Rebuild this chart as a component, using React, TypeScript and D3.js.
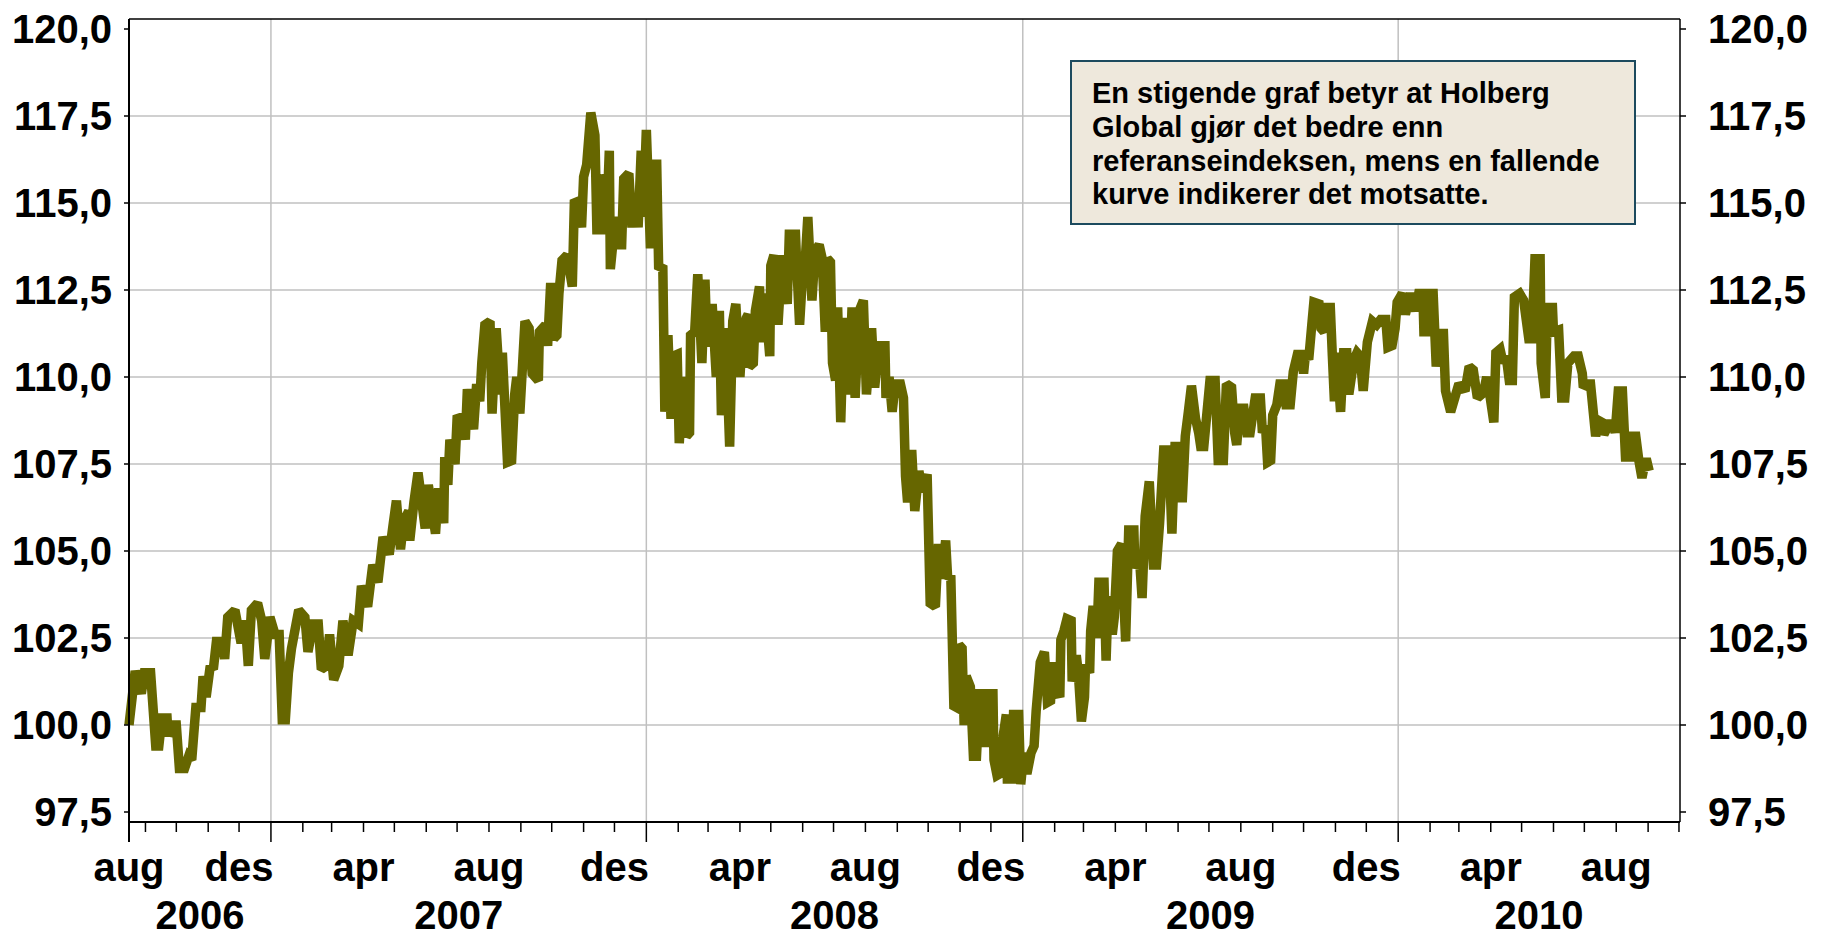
import React from 'react';
import * as d3 from 'd3';

// ---------- data ----------
const START_DATE = '2006-08-16';
const AXIS_END_DATE = '2010-10-02';

// days since START_DATE
const dayOffsets = [
  0, 6, 12, 15, 21, 26, 29, 32, 37, 38, 43, 46, 49, 54, 58, 61, 65, 70, 72, 75, 79, 82, 85, 91, 93, 96, 103, 109, 113, 116, 119, 125, 129, 132, 137, 142, 146, 149, 152, 155, 158, 165, 171, 174, 179, 184, 187, 192, 195, 199, 204, 208, 213, 218, 223, 226, 232, 237, 242, 247, 253, 257,
  260, 264, 267, 272, 273, 277, 281, 288, 291, 298, 301, 306, 307, 310, 312, 317, 319, 324, 327, 329, 335, 338, 341, 343, 346, 351, 353, 357, 361, 363, 368, 372, 375, 377, 380, 385, 389, 392, 398, 399, 405, 407, 410, 413, 416, 418, 421, 426, 431, 433, 437, 440, 442, 445, 449, 453, 455, 458, 461, 464, 467, 468, 473, 476, 479, 481, 486, 489, 492, 495, 498, 500, 503, 507,
  513, 515, 519, 521, 524, 527, 529, 533, 535, 539, 542, 545, 546, 550, 553, 557, 560, 562, 565, 567, 571, 574, 576, 580, 584, 587, 590, 594, 597, 602, 603, 607, 609, 613, 615, 618, 623, 624, 627, 631, 635, 640, 642, 648, 649, 652, 655, 656, 660, 664, 667, 671, 674, 677, 679, 682, 684, 687, 689, 692, 695, 700, 703, 706, 710, 714, 717, 722, 725, 729, 735, 736, 739, 742, 745, 750, 753, 755, 757, 761, 764, 768, 771,
  776, 779, 784, 787, 790, 794, 796, 799, 802, 805, 807, 810, 812, 814, 818, 821, 824, 827, 830, 831, 834, 836, 840, 841, 844, 847, 849, 853, 854, 858, 860, 865, 867, 870, 873, 877, 880, 882, 886, 890, 893, 896, 898, 902, 905, 906, 909, 912, 916, 917, 921, 923, 926, 929, 930, 934, 935, 937, 939, 941, 943, 948, 950, 952, 956, 958, 961, 965, 969, 972, 977, 978, 982, 985, 988, 992, 996, 999, 1002, 1006, 1011, 1014, 1017, 1022, 1024, 1027, 1030, 1033, 1037, 1040,
  1042, 1045, 1051, 1056, 1059, 1064, 1067, 1072, 1075, 1077, 1080, 1084, 1087, 1090, 1095, 1100, 1102, 1105, 1107, 1110, 1112, 1116, 1119, 1123, 1125, 1129, 1132, 1136, 1140, 1142, 1144, 1147, 1150, 1152, 1157, 1159, 1162, 1164, 1168, 1170, 1172, 1174, 1178, 1181, 1184, 1186, 1191, 1194, 1197, 1200, 1204, 1209, 1213, 1217, 1222, 1224, 1228, 1231, 1233, 1238, 1241, 1246, 1251, 1254, 1258, 1259, 1263, 1265, 1268, 1271, 1274, 1278, 1280, 1285,
  1293, 1299, 1303, 1307, 1311, 1317, 1320, 1323, 1327, 1329, 1333, 1336, 1339, 1342, 1345, 1347, 1352, 1356, 1361, 1364, 1367, 1372, 1373, 1377, 1379, 1384, 1385, 1390, 1393, 1396, 1399, 1405, 1409, 1413, 1414, 1418, 1421, 1424, 1426, 1429, 1432, 1434, 1439, 1443, 1445, 1448, 1452, 1455, 1460, 1462, 1465, 1468, 1471, 1474, 1476, 1478,
];

const indexValues = [
  100.0, 101.55, 100.9, 101.5, 101.5, 99.4, 99.4, 100.2, 100.2, 99.7, 100.0, 100.0, 98.75, 98.75, 99.1, 99.0, 100.5, 100.5, 101.4, 100.8, 101.7, 101.6, 102.4, 102.4, 101.9, 103.1, 103.3, 102.35, 103.0, 101.7, 103.3, 103.5, 103.0, 101.9, 103.1, 102.6, 102.6, 100.15, 100.15, 101.5, 102.2, 103.3, 103.1, 102.1, 102.9, 102.9, 101.6, 101.7, 102.6, 101.3, 101.7, 103.0, 102.0, 103.0, 102.9, 104.0, 103.4, 104.6, 104.1, 105.4, 104.9, 105.8,
  106.45, 105.05, 105.85, 106.15, 105.3, 106.4, 107.25, 105.65, 106.9, 105.5, 106.8, 105.8, 107.7, 106.9, 108.2, 107.5, 108.8, 108.85, 108.2, 109.65, 108.5, 109.8, 109.3, 110.4, 111.5, 111.6, 108.95, 111.4, 109.5, 110.7, 107.55, 107.6, 109.5, 110.0, 108.95, 111.6, 111.4, 110.1, 109.9, 111.3, 111.5, 110.9, 112.7, 111.1, 111.2, 112.4, 113.35, 113.5, 112.6, 115.0, 115.05, 114.3, 115.75, 116.1, 117.6, 116.95, 114.1, 115.8, 115.5, 114.1, 116.5, 113.1, 114.6, 113.8, 113.8, 115.7, 115.85, 114.3, 115.2, 114.3, 116.5, 114.6, 117.1, 113.7,
  116.25, 113.1, 113.2, 109.0, 111.2, 108.8, 110.6, 110.65, 108.1, 110.0, 108.3, 108.4, 111.2, 111.3, 112.95, 110.4, 112.8, 111.0, 111.0, 112.1, 110.0, 111.9, 108.9, 111.4, 108.0, 111.6, 112.1, 110.0, 111.5, 111.8, 110.3, 110.4, 111.9, 112.6, 111.0, 112.4, 110.6, 113.2, 113.5, 111.5, 113.5, 112.1, 114.1, 114.1, 113.4, 111.5, 113.0, 112.6, 114.6, 112.2, 113.6, 113.8, 113.4, 111.3, 113.4, 113.3, 110.4, 109.9, 112.0, 108.7, 111.7, 109.5, 112.0, 109.4, 111.9, 112.2, 109.5, 111.4, 109.7, 110.9, 110.9, 109.4, 110.0, 109.0, 109.8, 109.8, 109.4, 107.15, 106.4, 107.9, 106.15, 107.3, 106.7,
  107.2, 103.5, 103.4, 105.2, 104.2, 105.3, 104.2, 104.3, 100.55, 100.5, 102.3, 102.2, 100.0, 101.4, 101.1, 99.1, 99.1, 100.9, 100.9, 99.5, 99.5, 100.9, 100.9, 99.0, 98.55, 98.6, 99.5, 100.3, 98.45, 98.45, 100.3, 100.3, 98.3, 99.2, 98.6, 99.2, 99.4, 100.4, 101.8, 102.1, 100.65, 100.7, 101.8, 101.0, 100.8, 102.45, 102.7, 103.05, 103.0, 101.25, 102.0, 101.5, 100.1, 100.8, 101.75, 101.5, 102.7, 103.3, 103.3, 102.5, 104.1, 104.1, 101.85, 103.7, 102.6, 103.1, 105.0, 105.2, 102.4, 105.6, 105.6, 104.5, 105.0, 103.65, 106.0, 107.0, 104.6, 104.6, 105.8, 107.9, 107.9, 105.5, 108.0, 108.0, 106.4, 108.3, 109.0, 109.75, 108.8, 108.4,
  108.0, 108.0, 109.9, 109.9, 107.6, 107.6, 109.8, 109.7, 108.4, 108.05, 109.1, 109.1, 108.4, 108.4, 109.4, 109.4, 108.4, 108.6, 107.55, 107.6, 108.9, 109.2, 109.8, 109.8, 109.2, 109.2, 110.15, 110.65, 110.65, 110.1, 110.7, 110.5, 111.5, 112.15, 112.1, 111.4, 111.3, 112.0, 112.0, 110.6, 109.3, 110.7, 109.0, 110.7, 110.7, 109.5, 110.5, 110.7, 110.6, 109.6, 111.0, 111.6, 111.5, 111.65, 111.65, 110.85, 110.9, 111.4, 112.15, 112.4, 111.8, 112.4, 111.9, 112.4, 112.4, 111.3, 111.3, 112.4, 112.4, 110.3, 111.25, 111.25, 109.6, 109.0,
  109.8, 109.6, 110.3, 110.2, 109.4, 109.55, 110.0, 109.5, 108.7, 110.7, 110.8, 110.4, 110.6, 109.9, 109.9, 112.3, 112.4, 112.2, 111.1, 111.1, 113.4, 113.4, 110.4, 109.4, 112.0, 112.0, 111.3, 111.35, 109.4, 109.4, 110.4, 110.6, 110.6, 110.1, 109.7, 109.8, 109.8, 108.9, 108.3, 108.75, 108.7, 108.35, 108.65, 108.65, 108.4, 109.6, 109.6, 107.7, 107.7, 108.3, 108.3, 107.6, 107.1, 107.55, 107.55, 107.3,
];

const yTickValues = [97.5, 100, 102.5, 105, 107.5, 110, 112.5, 115, 117.5, 120];
const yGridValues = [100, 102.5, 105, 107.5, 110, 112.5, 115, 117.5];

const monthLabelDates = [
  '2006-08-16', '2006-12-01', '2007-04-01', '2007-08-01', '2007-12-01', '2008-04-01',
  '2008-08-01', '2008-12-01', '2009-04-01', '2009-08-01', '2009-12-01', '2010-04-01', '2010-08-01',
];
const monthLabelTexts = ['aug', 'des', 'apr', 'aug', 'des', 'apr', 'aug', 'des', 'apr', 'aug', 'des', 'apr', 'aug'];
const yearLabels = [2006, 2007, 2008, 2009, 2010];

const noteLines = [
  'En stigende graf betyr at Holberg',
  'Global gjør det bedre enn',
  'referanseindeksen, mens en fallende',
  'kurve indikerer det motsatte.',
];

// ---------- layout ----------
const W = 1821;
const H = 939;
const PLOT_LEFT = 129;
const PLOT_RIGHT = 1680;
const PLOT_TOP = 19;
const PLOT_BOTTOM = 822;
const Y_AT_120 = 29;
const Y_AT_975 = 812;
const FONT = '"Liberation Sans", Arial, Helvetica, sans-serif';
const LINE_COLOR = '#666600';
const GRID_COLOR = '#c0c0c0';

const parse = d3.utcParse('%Y-%m-%d');

export default function App() {
  const start = parse(START_DATE) as Date;
  const end = parse(AXIS_END_DATE) as Date;

  const x = d3.scaleUtc().domain([start, end]).range([PLOT_LEFT, PLOT_RIGHT]);
  const y = d3.scaleLinear().domain([97.5, 120]).range([Y_AT_975, Y_AT_120]);

  const points = dayOffsets.map((d, i) => ({
    date: d3.utcDay.offset(start, d),
    value: indexValues[i],
  }));

  const line = d3
    .line<{ date: Date; value: number }>()
    .x((d) => x(d.date))
    .y((d) => y(d.value));

  const months = d3.utcMonth.range(d3.utcMonth.ceil(start), d3.utcDay.offset(end, 1));
  const fmt = (v: number) => d3.format('.1f')(v).replace('.', ',');

  const years = yearLabels.map((yr) => {
    const a = new Date(Date.UTC(yr, 0, 1));
    const b = new Date(Date.UTC(yr + 1, 0, 1));
    const xa = x(a < start ? start : a);
    const xb = x(b > end ? end : b);
    return { yr, cx: (xa + xb) / 2 };
  });

  const jan1s = months.filter((m) => m.getUTCMonth() === 0);

  return (
    <div style={{ position: 'absolute', left: 0, top: 0, width: W, height: H, background: '#fff' }}>
      <svg width={W} height={H} style={{ display: 'block' }} fontFamily={FONT}>
        <rect x={0} y={0} width={W} height={H} fill="#fff" />

        {/* horizontal grid */}
        {yGridValues.map((v) => (
          <line key={'hg' + v} x1={PLOT_LEFT} x2={PLOT_RIGHT} y1={y(v)} y2={y(v)} stroke={GRID_COLOR} strokeWidth={1.5} />
        ))}
        {/* vertical grid at year starts */}
        {jan1s.map((m) => (
          <line key={'vg' + m.toISOString()} x1={x(m)} x2={x(m)} y1={PLOT_TOP} y2={PLOT_BOTTOM} stroke={GRID_COLOR} strokeWidth={1.5} />
        ))}

        {/* annotation box */}
        <rect x={1071} y={61} width={564} height={163} fill="#EEE8DC" stroke="#1C4A5E" strokeWidth={2} />
        {noteLines.map((t, i) => (
          <text key={'n' + i} x={1092} y={103 + i * 33.8} fontSize={29} fontWeight="bold" fill="#000">
            {t}
          </text>
        ))}

        {/* data line */}
        <path d={line(points) || ''} fill="none" stroke={LINE_COLOR} strokeWidth={9.5} strokeLinejoin="miter" strokeMiterlimit={2} />

        {/* frame */}
        <line x1={PLOT_LEFT} x2={PLOT_RIGHT} y1={PLOT_TOP} y2={PLOT_TOP} stroke="#000" strokeWidth={1.5} />
        <line x1={PLOT_RIGHT} x2={PLOT_RIGHT} y1={PLOT_TOP} y2={PLOT_BOTTOM} stroke="#000" strokeWidth={1.5} />
        <line x1={PLOT_LEFT} x2={PLOT_RIGHT} y1={PLOT_BOTTOM} y2={PLOT_BOTTOM} stroke="#000" strokeWidth={2} />
        <line x1={PLOT_LEFT} x2={PLOT_LEFT} y1={PLOT_TOP} y2={PLOT_BOTTOM + 20} stroke="#000" strokeWidth={2} />

        {/* y ticks and labels */}
        {yTickValues.map((v) => (
          <g key={'yt' + v}>
            <line x1={PLOT_LEFT - 5} x2={PLOT_LEFT} y1={y(v)} y2={y(v)} stroke="#000" strokeWidth={1.5} />
            <line x1={PLOT_RIGHT} x2={PLOT_RIGHT + 6} y1={y(v)} y2={y(v)} stroke="#000" strokeWidth={1.5} />
            <text x={112} y={y(v) + 14} textAnchor="end" fontSize={40} fontWeight="bold" fill="#000">
              {fmt(v)}
            </text>
            <text x={1708} y={y(v) + 14} textAnchor="start" fontSize={40} fontWeight="bold" fill="#000">
              {fmt(v)}
            </text>
          </g>
        ))}

        {/* x ticks */}
        {months.map((m) => {
          const major = m.getUTCMonth() === 0;
          return (
            <line
              key={'xt' + m.toISOString()}
              x1={x(m)}
              x2={x(m)}
              y1={PLOT_BOTTOM}
              y2={PLOT_BOTTOM + (major ? 20 : 10)}
              stroke="#000"
              strokeWidth={1.5}
            />
          );
        })}

        {/* month labels */}
        {monthLabelDates.map((ds, i) => (
          <text key={'ml' + i} x={x(parse(ds) as Date)} y={881} textAnchor="middle" fontSize={40} fontWeight="bold" fill="#000">
            {monthLabelTexts[i]}
          </text>
        ))}

        {/* year labels */}
        {years.map((yl) => (
          <text key={'yl' + yl.yr} x={yl.cx} y={929} textAnchor="middle" fontSize={40} fontWeight="bold" fill="#000">
            {yl.yr}
          </text>
        ))}
      </svg>
    </div>
  );
}
